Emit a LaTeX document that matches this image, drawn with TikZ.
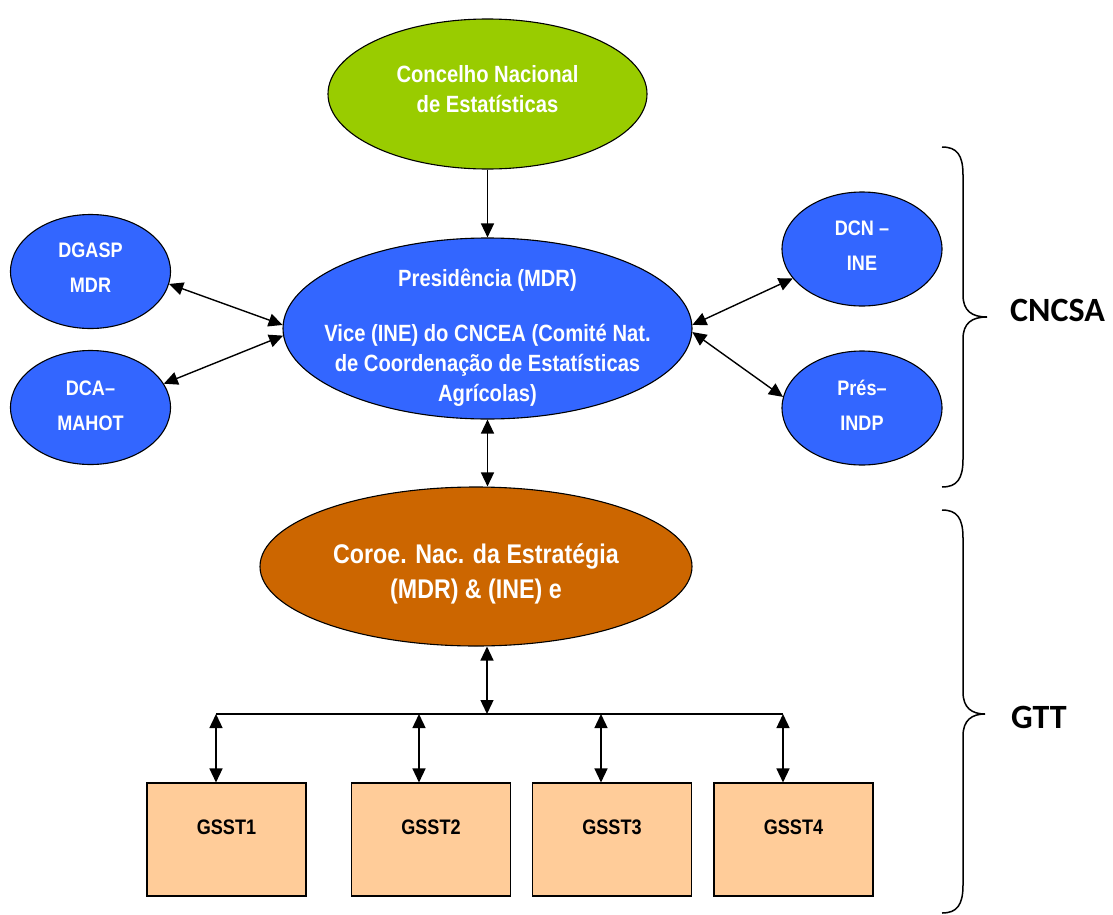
\documentclass[tikz,border=0pt]{standalone}
\usepackage{fontspec}
\usetikzlibrary{arrows.meta,shapes.geometric}
\newfontfamily\narrowsans[FakeStretch=0.86]{Liberation Sans}
\newfontfamily\calsans{Carlito}
\newcommand\celltext[2]{\smash{\raisebox{#1}{\makebox[0pt]{\begin{tabular}{@{}c@{}}#2\end{tabular}}}}}
\tikzset{
    oval/.style={ellipse, draw, line width=1.1bp, inner sep=0pt, text=white},
    smalloval/.style={oval, fill=OvalBlue, minimum width=160bp, minimum height=114bp,
        font=\narrowsans\bfseries\fontsize{21bp}{35bp}\selectfont},
    gbox/.style={rectangle, draw, line width=1.1bp, inner sep=0pt, fill=BoxPeach,
        minimum width=159bp, minimum height=113bp,
        font=\narrowsans\bfseries\fontsize{21bp}{25bp}\selectfont},
    link/.style={line width=1.4bp, >={Triangle[length=14bp,width=13bp]}},
    sidelabel/.style={anchor=west, inner sep=0pt,
        font=\calsans\bfseries\fontsize{34bp}{40bp}\selectfont},
}

\begin{document}
\begin{tikzpicture}[x=1bp,y=-1bp]
    \definecolor{CneGreen}{HTML}{99CC00}
    \definecolor{OvalBlue}{HTML}{3366FF}
    \definecolor{CoroeOrange}{HTML}{CC6600}
    \definecolor{BoxPeach}{HTML}{FFCC99}
    \useasboundingbox (0,0) rectangle (1113,915);

    \node[oval, fill=CneGreen, minimum width=319bp, minimum height=150bp,
        font=\narrowsans\bfseries\fontsize{23.5bp}{30bp}\selectfont]
        (cne) at (487.5,94) {\celltext{-4bp}{Concelho Nacional\\de Estatísticas}};
    \node[oval, fill=OvalBlue, minimum width=409bp, minimum height=181bp,
        font=\narrowsans\bfseries\fontsize{23.5bp}{30bp}\selectfont]
        (pres) at (487.5,328.5) {\celltext{-16bp}{Presidência (MDR)\\[25bp]Vice (INE) do CNCEA (Comité Nat.\\de Coordenação de Estatísticas\\Agrícolas)}};
    \node[smalloval] (dgasp) at (90.5,271.5) {\celltext{-2bp}{DGASP\\MDR}};
    \node[smalloval] (dca) at (90.5,407.5) {\celltext{-4bp}{DCA–\\MAHOT}};
    \node[smalloval] (dcn) at (862,249) {\celltext{-2.5bp}{DCN –\\INE}};
    \node[smalloval] (presindp) at (862,408) {\celltext{-3bp}{Prés–\\INDP}};
    \node[oval, fill=CoroeOrange, minimum width=432bp, minimum height=159bp,
        font=\narrowsans\bfseries\fontsize{27bp}{35bp}\selectfont]
        (coroe) at (476,566.5) {\celltext{-13.5bp}{Coroe. Nac. da Estratégia\\(MDR) \& (INE) e}};

    % groups
    \node[gbox] (g1) at (226.5,839.5) {\celltext{4.5bp}{GSST1}};
    \node[gbox] (g2) at (431,839.5) {\celltext{4.5bp}{GSST2}};
    \node[gbox] (g3) at (612,839.5) {\celltext{4.5bp}{GSST3}};
    \node[gbox] (g4) at (793.5,839.5) {\celltext{4.5bp}{GSST4}};

    \draw[link,->] (cne) -- (pres);
    \draw[link,<->] (dgasp.-9) -- (pres.179);
    \draw[link,<->] (pres.182.5) -- (dca.18);
    \draw[link,<->] (pres.1) -- (dcn.203.6);
    \draw[link,<->] (pres.-1) -- (presindp.172);
    \draw[link,<->] (pres.south) -- (coroe.north -| pres.south);

    \coordinate (bm) at (487,714);
    \coordinate (b1) at (216,714);
    \coordinate (b2) at (419,714);
    \coordinate (b3) at (601,714);
    \coordinate (b4) at (783,714);
    \draw[link,<->] (coroe.south -| bm) -- (bm);
    \draw[line width=1.4bp] (b1) -- (b4);
    \foreach \i in {1,...,4}
        \draw[link,<->] (b\i) -- (g\i.north -| b\i);

    \foreach \ya/\yb/\yc/\tipx in {147/317/487/987, 510/714/913/985}{%
        \draw[line width=1.5bp] (942,\ya) .. controls (957,\ya) and (963,\ya+8) .. (963,\ya+28)
            -- (963,\yb-22) .. controls (963,\yb-6) and (972,\yb) .. (\tipx,\yb)
            .. controls (972,\yb) and (963,\yb+6) .. (963,\yb+22)
            -- (963,\yc-28) .. controls (963,\yc-8) and (957,\yc) .. (942,\yc);
    }
    \node[sidelabel] (cncsa) at (1010,310) {CNCSA};
    \node[sidelabel] (gtt) at (1011,717) {GTT};
\end{tikzpicture}
\end{document}
